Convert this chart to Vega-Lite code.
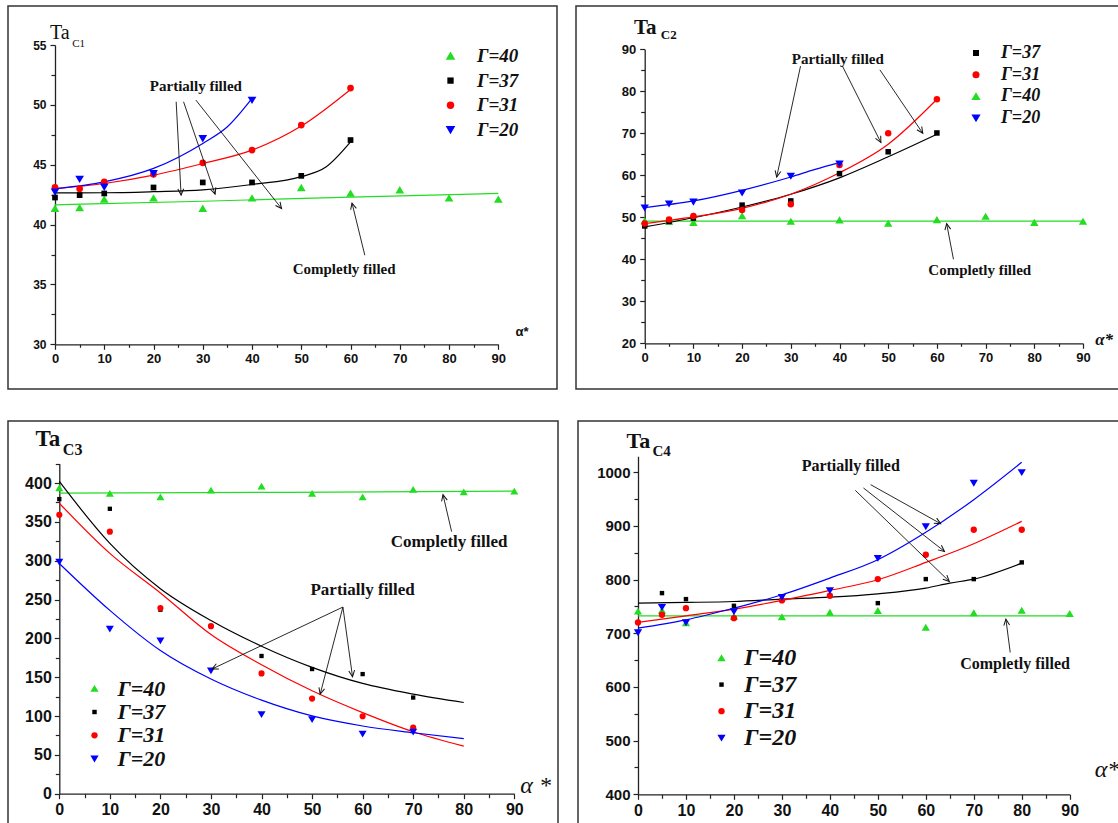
{
"$schema": "https://vega.github.io/schema/vega-lite/v6.json",
"padding": {"left": 7, "top": 5, "right": 0, "bottom": 0},
"background": "white",
"config": {"view": {"stroke": "#333333", "strokeWidth": 1.5}, "axis": {"grid": false}},
"datasets": {
"p1p": [
{"a":0,"v":41.34,"g":"Γ=40"},{"a":5,"v":41.4,"g":"Γ=40"},{"a":10,"v":42.1,"g":"Γ=40"},{"a":20,"v":42.2,"g":"Γ=40"},{"a":30,"v":41.34,"g":"Γ=40"},{"a":40,"v":42.2,"g":"Γ=40"},{"a":50,"v":43.07,"g":"Γ=40"},{"a":60,"v":42.6,"g":"Γ=40"},{"a":70,"v":42.88,"g":"Γ=40"},{"a":80,"v":42.2,"g":"Γ=40"},{"a":90,"v":42.1,"g":"Γ=40"},
{"a":0,"v":42.26,"g":"Γ=37"},{"a":5,"v":42.46,"g":"Γ=37"},{"a":10,"v":42.6,"g":"Γ=37"},{"a":20,"v":43.1,"g":"Γ=37"},{"a":30,"v":43.52,"g":"Γ=37"},{"a":40,"v":43.52,"g":"Γ=37"},{"a":50,"v":44.07,"g":"Γ=37"},{"a":60,"v":47.06,"g":"Γ=37"},
{"a":0,"v":43.1,"g":"Γ=31"},{"a":5,"v":43.0,"g":"Γ=31"},{"a":10,"v":43.57,"g":"Γ=31"},{"a":20,"v":44.2,"g":"Γ=31"},{"a":30,"v":45.16,"g":"Γ=31"},{"a":40,"v":46.22,"g":"Γ=31"},{"a":50,"v":48.31,"g":"Γ=31"},{"a":60,"v":51.4,"g":"Γ=31"},
{"a":0,"v":42.74,"g":"Γ=20"},{"a":5,"v":43.8,"g":"Γ=20"},{"a":10,"v":43.15,"g":"Γ=20"},{"a":20,"v":44.27,"g":"Γ=20"},{"a":30,"v":47.2,"g":"Γ=20"},{"a":40,"v":50.4,"g":"Γ=20"}
],
"p1l": [
{"a":0,"v":41.65,"g":"Γ=40"},{"a":30,"v":41.95,"g":"Γ=40"},{"a":60,"v":42.3,"g":"Γ=40"},{"a":90,"v":42.6,"g":"Γ=40"},
{"a":0,"v":42.65,"g":"Γ=37"},{"a":10,"v":42.66,"g":"Γ=37"},{"a":20,"v":42.75,"g":"Γ=37"},{"a":30,"v":42.9,"g":"Γ=37"},{"a":40,"v":43.35,"g":"Γ=37"},{"a":50,"v":44.0,"g":"Γ=37"},{"a":55,"v":44.8,"g":"Γ=37"},{"a":60,"v":46.9,"g":"Γ=37"},
{"a":0,"v":43.0,"g":"Γ=31"},{"a":10,"v":43.43,"g":"Γ=31"},{"a":20,"v":44.13,"g":"Γ=31"},{"a":30,"v":45.1,"g":"Γ=31"},{"a":40,"v":46.22,"g":"Γ=31"},{"a":50,"v":48.23,"g":"Γ=31"},{"a":60,"v":51.29,"g":"Γ=31"},
{"a":0,"v":43.0,"g":"Γ=20"},{"a":10,"v":43.57,"g":"Γ=20"},{"a":20,"v":44.69,"g":"Γ=20"},{"a":30,"v":46.78,"g":"Γ=20"},{"a":35,"v":48.17,"g":"Γ=20"},{"a":40,"v":50.54,"g":"Γ=20"}
],
"p2p": [
{"a":0,"v":49.13,"g":"Γ=40"},{"a":5,"v":48.97,"g":"Γ=40"},{"a":10,"v":48.7,"g":"Γ=40"},{"a":20,"v":50.3,"g":"Γ=40"},{"a":30,"v":48.97,"g":"Γ=40"},{"a":40,"v":49.3,"g":"Γ=40"},{"a":50,"v":48.5,"g":"Γ=40"},{"a":60,"v":49.37,"g":"Γ=40"},{"a":70,"v":50.16,"g":"Γ=40"},{"a":80,"v":48.7,"g":"Γ=40"},{"a":90,"v":48.97,"g":"Γ=40"},
{"a":0,"v":47.94,"g":"Γ=37"},{"a":5,"v":49.0,"g":"Γ=37"},{"a":10,"v":49.8,"g":"Γ=37"},{"a":20,"v":52.9,"g":"Γ=37"},{"a":30,"v":53.9,"g":"Γ=37"},{"a":40,"v":60.4,"g":"Γ=37"},{"a":50,"v":65.6,"g":"Γ=37"},{"a":60,"v":70.08,"g":"Γ=37"},
{"a":0,"v":48.5,"g":"Γ=31"},{"a":5,"v":49.5,"g":"Γ=31"},{"a":10,"v":50.3,"g":"Γ=31"},{"a":20,"v":51.75,"g":"Γ=31"},{"a":30,"v":53.1,"g":"Γ=31"},{"a":40,"v":62.46,"g":"Γ=31"},{"a":50,"v":70.0,"g":"Γ=31"},{"a":60,"v":78.1,"g":"Γ=31"},
{"a":0,"v":52.3,"g":"Γ=20"},{"a":5,"v":53.25,"g":"Γ=20"},{"a":10,"v":53.7,"g":"Γ=20"},{"a":20,"v":55.87,"g":"Γ=20"},{"a":30,"v":59.84,"g":"Γ=20"},{"a":40,"v":62.78,"g":"Γ=20"}
],
"p2l": [
{"a":0,"v":49.1,"g":"Γ=40"},{"a":90,"v":49.1,"g":"Γ=40"},
{"a":0,"v":47.7,"g":"Γ=37"},{"a":10,"v":49.9,"g":"Γ=37"},{"a":20,"v":52.46,"g":"Γ=37"},{"a":30,"v":55.5,"g":"Γ=37"},{"a":40,"v":59.4,"g":"Γ=37"},{"a":50,"v":64.4,"g":"Γ=37"},{"a":60,"v":69.76,"g":"Γ=37"},
{"a":0,"v":48.5,"g":"Γ=31"},{"a":10,"v":50.08,"g":"Γ=31"},{"a":20,"v":52.14,"g":"Γ=31"},{"a":30,"v":55.5,"g":"Γ=31"},{"a":40,"v":60.6,"g":"Γ=31"},{"a":50,"v":67.4,"g":"Γ=31"},{"a":60,"v":78.1,"g":"Γ=31"},
{"a":0,"v":52.3,"g":"Γ=20"},{"a":10,"v":53.9,"g":"Γ=20"},{"a":20,"v":56.43,"g":"Γ=20"},{"a":30,"v":59.6,"g":"Γ=20"},{"a":35,"v":61.4,"g":"Γ=20"},{"a":40,"v":63.0,"g":"Γ=20"}
],
"p3p": [
{"a":0,"v":393.5,"g":"Γ=40"},{"a":10,"v":386.2,"g":"Γ=40"},{"a":20,"v":381.9,"g":"Γ=40"},{"a":30,"v":390.5,"g":"Γ=40"},{"a":40,"v":395.7,"g":"Γ=40"},{"a":50,"v":386.2,"g":"Γ=40"},{"a":60,"v":381.9,"g":"Γ=40"},{"a":70,"v":391.4,"g":"Γ=40"},{"a":80,"v":388.3,"g":"Γ=40"},{"a":90,"v":389.2,"g":"Γ=40"},
{"a":0,"v":379.3,"g":"Γ=37"},{"a":10,"v":366.8,"g":"Γ=37"},{"a":20,"v":236.9,"g":"Γ=37"},{"a":30,"v":215.7,"g":"Γ=37"},{"a":40,"v":177.3,"g":"Γ=37"},{"a":50,"v":160.5,"g":"Γ=37"},{"a":60,"v":154.0,"g":"Γ=37"},{"a":70,"v":123.8,"g":"Γ=37"},
{"a":0,"v":359,"g":"Γ=31"},{"a":10,"v":337.4,"g":"Γ=31"},{"a":20,"v":239,"g":"Γ=31"},{"a":30,"v":215.7,"g":"Γ=31"},{"a":40,"v":154.9,"g":"Γ=31"},{"a":50,"v":122.5,"g":"Γ=31"},{"a":60,"v":99.7,"g":"Γ=31"},{"a":70,"v":85,"g":"Γ=31"},
{"a":0,"v":298.6,"g":"Γ=20"},{"a":10,"v":212.3,"g":"Γ=20"},{"a":20,"v":197.2,"g":"Γ=20"},{"a":30,"v":158.4,"g":"Γ=20"},{"a":40,"v":102.3,"g":"Γ=20"},{"a":50,"v":95.8,"g":"Γ=20"},{"a":60,"v":77.2,"g":"Γ=20"},{"a":70,"v":79.8,"g":"Γ=20"}
],
"p3l": [
{"a":0,"v":387,"g":"Γ=40"},{"a":45,"v":388,"g":"Γ=40"},{"a":90,"v":389.5,"g":"Γ=40"},
{"a":0,"v":402,"g":"Γ=37"},{"a":10,"v":322.3,"g":"Γ=37"},{"a":20,"v":264,"g":"Γ=37"},{"a":30,"v":223,"g":"Γ=37"},{"a":40,"v":189.9,"g":"Γ=37"},{"a":50,"v":162.7,"g":"Γ=37"},{"a":60,"v":142,"g":"Γ=37"},{"a":70,"v":128.2,"g":"Γ=37"},{"a":80,"v":117.4,"g":"Γ=37"},
{"a":0,"v":374,"g":"Γ=31"},{"a":10,"v":309.4,"g":"Γ=31"},{"a":20,"v":258.5,"g":"Γ=31"},{"a":30,"v":205,"g":"Γ=31"},{"a":40,"v":166.1,"g":"Γ=31"},{"a":50,"v":132.5,"g":"Γ=31"},{"a":60,"v":104.4,"g":"Γ=31"},{"a":70,"v":79.8,"g":"Γ=31"},{"a":80,"v":61.3,"g":"Γ=31"},
{"a":0,"v":296.4,"g":"Γ=20"},{"a":10,"v":236,"g":"Γ=20"},{"a":20,"v":184.3,"g":"Γ=20"},{"a":30,"v":147.6,"g":"Γ=20"},{"a":40,"v":120.4,"g":"Γ=20"},{"a":50,"v":100.1,"g":"Γ=20"},{"a":60,"v":87.2,"g":"Γ=20"},{"a":70,"v":78.5,"g":"Γ=20"},{"a":80,"v":70.8,"g":"Γ=20"}
],
"p4p": [
{"a":0,"v":740.7,"g":"Γ=40"},{"a":5,"v":742.5,"g":"Γ=40"},{"a":10,"v":718.9,"g":"Γ=40"},{"a":20,"v":731.3,"g":"Γ=40"},{"a":30,"v":730.1,"g":"Γ=40"},{"a":40,"v":738.8,"g":"Γ=40"},{"a":50,"v":741.9,"g":"Γ=40"},{"a":60,"v":710.8,"g":"Γ=40"},{"a":70,"v":737.6,"g":"Γ=40"},{"a":80,"v":742.5,"g":"Γ=40"},{"a":90,"v":736.3,"g":"Γ=40"},
{"a":5,"v":774.9,"g":"Γ=37"},{"a":10,"v":763.7,"g":"Γ=37"},{"a":20,"v":751.2,"g":"Γ=37"},{"a":50,"v":756.2,"g":"Γ=37"},{"a":60,"v":801,"g":"Γ=37"},{"a":70,"v":801,"g":"Γ=37"},{"a":80,"v":832.1,"g":"Γ=37"},
{"a":0,"v":720.2,"g":"Γ=31"},{"a":5,"v":734.5,"g":"Γ=31"},{"a":10,"v":746.9,"g":"Γ=31"},{"a":20,"v":728.2,"g":"Γ=31"},{"a":30,"v":761.2,"g":"Γ=31"},{"a":40,"v":769.9,"g":"Γ=31"},{"a":50,"v":801,"g":"Γ=31"},{"a":60,"v":846.4,"g":"Γ=31"},{"a":70,"v":893,"g":"Γ=31"},{"a":80,"v":893,"g":"Γ=31"},
{"a":0,"v":701.5,"g":"Γ=20"},{"a":5,"v":748.8,"g":"Γ=20"},{"a":10,"v":720.2,"g":"Γ=20"},{"a":20,"v":740.7,"g":"Γ=20"},{"a":30,"v":767.4,"g":"Γ=20"},{"a":40,"v":779.9,"g":"Γ=20"},{"a":50,"v":840.2,"g":"Γ=20"},{"a":60,"v":899.3,"g":"Γ=20"},{"a":70,"v":980.1,"g":"Γ=20"},{"a":80,"v":1000,"g":"Γ=20"}
],
"p4l": [
{"a":0,"v":732.6,"g":"Γ=40"},{"a":90,"v":732.6,"g":"Γ=40"},
{"a":0,"v":756.2,"g":"Γ=37"},{"a":10,"v":757.5,"g":"Γ=37"},{"a":20,"v":759.3,"g":"Γ=37"},{"a":30,"v":763.7,"g":"Γ=37"},{"a":40,"v":767.4,"g":"Γ=37"},{"a":50,"v":773.6,"g":"Γ=37"},{"a":60,"v":784.2,"g":"Γ=37"},{"a":65,"v":793.5,"g":"Γ=37"},{"a":70,"v":801,"g":"Γ=37"},{"a":80,"v":830.8,"g":"Γ=37"},
{"a":0,"v":720.2,"g":"Γ=31"},{"a":10,"v":732.6,"g":"Γ=31"},{"a":20,"v":745,"g":"Γ=31"},{"a":30,"v":761.2,"g":"Γ=31"},{"a":40,"v":779.9,"g":"Γ=31"},{"a":50,"v":799.8,"g":"Γ=31"},{"a":60,"v":832.1,"g":"Γ=31"},{"a":70,"v":866.9,"g":"Γ=31"},{"a":80,"v":908.6,"g":"Γ=31"},
{"a":0,"v":709.6,"g":"Γ=20"},{"a":10,"v":725.1,"g":"Γ=20"},{"a":20,"v":746.9,"g":"Γ=20"},{"a":30,"v":771.8,"g":"Γ=20"},{"a":40,"v":802.9,"g":"Γ=20"},{"a":50,"v":837.1,"g":"Γ=20"},{"a":60,"v":888.1,"g":"Γ=20"},{"a":70,"v":949,"g":"Γ=20"},{"a":80,"v":1018.7,"g":"Γ=20"}
],
"arrows": [
{"p":1,"id":1,"a":24.6,"v":50.26,"a2":25.6,"v2":42.46},{"p":1,"id":2,"a":26.1,"v":50.26,"a2":32.5,"v2":42.54},{"p":1,"id":3,"a":28.6,"v":50.4,"a2":46.0,"v2":41.34},{"p":1,"id":4,"a":62.9,"v":37.44,"a2":60.3,"v2":41.8},
{"p":2,"id":1,"a":32.0,"v":86.0,"a2":27.1,"v2":59.6},{"p":2,"id":2,"a":40.6,"v":86.0,"a2":48.5,"v2":67.8},{"p":2,"id":3,"a":48.3,"v":85.1,"a2":57.1,"v2":70.0},{"p":2,"id":4,"a":63.4,"v":40.0,"a2":62.0,"v2":48.5},
{"p":3,"id":1,"a":77.6,"v":337.4,"a2":75.9,"v2":384.9},{"p":3,"id":2,"a":56.1,"v":240.3,"a2":30.2,"v2":160.5},{"p":3,"id":3,"a":56.1,"v":240.3,"a2":51.6,"v2":128.2},{"p":3,"id":4,"a":56.1,"v":240.3,"a2":58.0,"v2":150.6},
{"p":4,"id":1,"a":48.5,"v":977,"a2":63.1,"v2":904.2},{"p":4,"id":2,"a":47.0,"v":970.8,"a2":63.9,"v2":852.6},{"p":4,"id":3,"a":45.3,"v":966.4,"a2":64.9,"v2":796.6},{"p":4,"id":4,"a":77.6,"v":664.2,"a2":76.7,"v2":726.4}
],
"heads": [
{"p":1,"id":1,"a":25.6,"v":42.46},{"p":1,"id":2,"a":32.5,"v":42.54},{"p":1,"id":3,"a":46.0,"v":41.34},{"p":1,"id":4,"a":60.3,"v":41.8},
{"p":2,"id":1,"a":27.1,"v":59.6},{"p":2,"id":2,"a":48.5,"v":67.8},{"p":2,"id":3,"a":57.1,"v":70.0},{"p":2,"id":4,"a":62.0,"v":48.5},
{"p":3,"id":1,"a":75.9,"v":384.9},{"p":3,"id":2,"a":30.2,"v":160.5},{"p":3,"id":3,"a":51.6,"v":128.2},{"p":3,"id":4,"a":58.0,"v":150.6},
{"p":4,"id":1,"a":63.1,"v":904.2},{"p":4,"id":2,"a":63.9,"v":852.6},{"p":4,"id":3,"a":64.9,"v":796.6},{"p":4,"id":4,"a":76.7,"v":726.4}
],
"notes": [
{"p":1,"k":"ann","a":28.6,"v":51.57,"t":"Partially filled"},{"p":1,"k":"ann","a":58.7,"v":36.33,"t":"Completly filled"},{"p":1,"k":"ta","a":-1.02,"v":55.5,"t":"Ta"},{"p":1,"k":"sub","a":3.5,"v":54.84,"t":"C1"},{"p":1,"k":"al","a":93.5,"v":31.03,"t":"α*"},
{"p":2,"k":"ann","a":39.65,"v":87.8,"t":"Partially filled"},{"p":2,"k":"ann","a":68.8,"v":37.4,"t":"Completly filled"},{"p":2,"k":"ta","a":-2.19,"v":93.57,"t":"Ta"},{"p":2,"k":"sub","a":3.3,"v":92.38,"t":"C2"},{"p":2,"k":"al","a":92.5,"v":20.7,"t":"α*"},
{"p":3,"k":"ann","a":60.0,"v":262.8,"t":"Partially filled"},{"p":3,"k":"ann","a":77.1,"v":323.6,"t":"Completly filled"},{"p":3,"k":"ta","a":-4.72,"v":447.5,"t":"Ta"},{"p":3,"k":"sub","a":0.7,"v":436.7,"t":"C3"},{"p":3,"k":"al","a":91.2,"v":9.5,"t":"α *"},
{"p":4,"k":"ann","a":44.35,"v":1012.4,"t":"Partially filled"},{"p":4,"k":"ann","a":78.6,"v":643,"t":"Completly filled"},{"p":4,"k":"ta","a":-2.4,"v":1045.4,"t":"Ta"},{"p":4,"k":"sub","a":3.0,"v":1029.9,"t":"C4"},{"p":4,"k":"al","a":95.2,"v":445.3,"t":"α*"}
]
},
"spacing": 30,
"resolve": {"scale": {"color": "independent", "shape": "independent"}, "legend": {"color": "independent", "shape": "independent"}},
"vconcat": [
{"spacing": 17,
 "resolve": {"scale": {"color": "independent", "shape": "independent"}, "legend": {"color": "independent", "shape": "independent"}},
 "hconcat": [
 {"width": 549, "height": 383,
  "encoding": {
   "x": {"field": "a", "type": "quantitative", "scale": {"domain": [0, 90], "range": [47, 490.3], "nice": false, "zero": false},
    "axis": {"title": null, "values": [0,5,10,15,20,25,30,35,40,45,50,55,60,65,70,75,80,85,90], "format": "d", "labelExpr": "datum.value % 10 === 0 ? datum.label : ''", "offset": -44.7, "grid": false, "domainColor": "#222", "domainWidth": 1.3, "tickColor": "#222", "tickWidth": 1.2, "tickSize": {"condition": {"test": "datum.value % 10 === 0", "value": 5}, "value": 3}, "labelFont": "Liberation Sans", "labelFontWeight": "bold", "labelFontSize": 13, "labelColor": "#111", "labelPadding": 3, "labelFlush": false, "labelOverlap": false}},
   "y": {"field": "v", "type": "quantitative", "scale": {"domain": [30, 55], "range": [338.3, 39], "nice": false, "zero": false},
    "axis": {"title": null, "values": [30,32.5,35,37.5,40,42.5,45,47.5,50,52.5,55], "labelExpr": "datum.value % 5 === 0 ? datum.label : ''", "offset": -47, "grid": false, "domainColor": "#222", "domainWidth": 1.3, "tickColor": "#222", "tickWidth": 1.2, "tickSize": {"condition": {"test": "datum.value % 5 === 0", "value": 5}, "value": 4}, "labelFont": "Liberation Sans", "labelFontWeight": "bold", "labelFontSize": 12, "labelColor": "#111", "labelPadding": 4, "labelFlush": false, "labelOverlap": false}}
  },
  "layer": [
   {"data": {"name": "p1l"}, "mark": {"type": "line", "interpolate": "monotone", "strokeWidth": 1.2},
    "encoding": {"detail": {"field": "g"}, "color": {"condition": [{"test": "datum.g === 'Γ=40'", "value": "#22dd22"}, {"test": "datum.g === 'Γ=31'", "value": "#ff0000"}, {"test": "datum.g === 'Γ=20'", "value": "#0000ff"}], "value": "#000000"}}},
   {"data": {"name": "p1p"}, "mark": {"type": "point", "filled": true, "size": 45, "opacity": 1},
    "encoding": {
     "color": {"field": "g", "type": "nominal", "scale": {"domain": ["Γ=40","Γ=37","Γ=31","Γ=20"], "range": ["#22dd22","#000000","#ff0000","#0000ff"]}, "legend": {"title": null, "orient": "none", "legendX": 433, "legendY": 40.5, "symbolSize": 55, "labelFont": "Liberation Serif", "labelFontStyle": "italic", "labelFontWeight": "bold", "labelFontSize": 19, "labelColor": "#111", "rowPadding": 4.6, "labelOffset": 17, "padding": 0, "symbolStrokeWidth": 0}},
     "shape": {"field": "g", "type": "nominal", "scale": {"domain": ["Γ=40","Γ=37","Γ=31","Γ=20"], "range": ["M0,-1.2L1.3,1L-1.3,1Z","M-0.85,-0.85L0.85,-0.85L0.85,0.85L-0.85,0.85Z","circle","M0,1.2L1.3,-1L-1.3,-1Z"]}, "legend": {"title": null, "orient": "none", "legendX": 433, "legendY": 40.5, "symbolSize": 55, "labelFont": "Liberation Serif", "labelFontStyle": "italic", "labelFontWeight": "bold", "labelFontSize": 19, "labelColor": "#111", "rowPadding": 4.6, "labelOffset": 17, "padding": 0, "symbolStrokeWidth": 0}}}},
   {"data": {"name": "arrows"}, "transform": [{"filter": "datum.p === 1"}], "mark": {"type": "rule", "color": "#111", "strokeWidth": 0.9},
    "encoding": {"x2": {"field": "a2"}, "y2": {"field": "v2"}}},
   {"data": {"name": "heads"}, "transform": [{"filter": "datum.p === 1 && datum.id === 1"}], "mark": {"type": "point", "shape": "M-1.6,-0.75L0,0L-1.6,0.75", "filled": false, "color": "#111", "strokeWidth": 1, "size": 60, "opacity": 1, "angle": 87}},
   {"data": {"name": "heads"}, "transform": [{"filter": "datum.p === 1 && datum.id === 2"}], "mark": {"type": "point", "shape": "M-1.6,-0.75L0,0L-1.6,0.75", "filled": false, "color": "#111", "strokeWidth": 1, "size": 60, "opacity": 1, "angle": 71.2}},
   {"data": {"name": "heads"}, "transform": [{"filter": "datum.p === 1 && datum.id === 3"}], "mark": {"type": "point", "shape": "M-1.6,-0.75L0,0L-1.6,0.75", "filled": false, "color": "#111", "strokeWidth": 1, "size": 60, "opacity": 1, "angle": 51.7}},
   {"data": {"name": "heads"}, "transform": [{"filter": "datum.p === 1 && datum.id === 4"}], "mark": {"type": "point", "shape": "M-1.6,-0.75L0,0L-1.6,0.75", "filled": false, "color": "#111", "strokeWidth": 1, "size": 60, "opacity": 1, "angle": 256.2}},
   {"data": {"name": "notes"}, "transform": [{"filter": "datum.p === 1 && datum.k === 'ann'"}], "mark": {"type": "text", "font": "Liberation Serif", "fontWeight": "bold", "fontSize": 15, "align": "center", "baseline": "middle", "color": "#111"}, "encoding": {"text": {"field": "t"}}},
   {"data": {"name": "notes"}, "transform": [{"filter": "datum.p === 1 && datum.k === 'ta'"}], "mark": {"type": "text", "font": "Liberation Serif", "fontSize": 20, "align": "left", "baseline": "alphabetic", "color": "#111"}, "encoding": {"text": {"field": "t"}}},
   {"data": {"name": "notes"}, "transform": [{"filter": "datum.p === 1 && datum.k === 'sub'"}], "mark": {"type": "text", "font": "Liberation Serif", "fontSize": 11, "align": "left", "baseline": "alphabetic", "color": "#111"}, "encoding": {"text": {"field": "t"}}},
   {"data": {"name": "notes"}, "transform": [{"filter": "datum.p === 1 && datum.k === 'al'"}], "mark": {"type": "text", "font": "Liberation Sans", "fontWeight": "bold", "fontSize": 13, "align": "left", "baseline": "middle", "color": "#111"}, "encoding": {"text": {"field": "t"}}}
  ]
 },
 {"width": 543, "height": 383,
  "encoding": {
   "x": {"field": "a", "type": "quantitative", "scale": {"domain": [0, 90], "range": [68.7, 507], "nice": false, "zero": false},
    "axis": {"title": null, "values": [0,5,10,15,20,25,30,35,40,45,50,55,60,65,70,75,80,85,90], "format": "d", "labelExpr": "datum.value % 10 === 0 ? datum.label : ''", "offset": -45.7, "grid": false, "domainColor": "#222", "domainWidth": 1.3, "tickColor": "#222", "tickWidth": 1.2, "tickSize": {"condition": {"test": "datum.value % 10 === 0", "value": 5}, "value": 3}, "labelFont": "Liberation Sans", "labelFontWeight": "bold", "labelFontSize": 13, "labelColor": "#111", "labelPadding": 3, "labelFlush": false, "labelOverlap": false}},
   "y": {"field": "v", "type": "quantitative", "scale": {"domain": [20, 90], "range": [337.3, 43.3], "nice": false, "zero": false},
    "axis": {"title": null, "values": [20,25,30,35,40,45,50,55,60,65,70,75,80,85,90], "format": "d", "labelExpr": "datum.value % 10 === 0 ? datum.label : ''", "offset": -68.7, "grid": false, "domainColor": "#222", "domainWidth": 1.3, "tickColor": "#222", "tickWidth": 1.2, "tickSize": {"condition": {"test": "datum.value % 10 === 0", "value": 5}, "value": 4}, "labelFont": "Liberation Sans", "labelFontWeight": "bold", "labelFontSize": 13, "labelColor": "#111", "labelPadding": 4, "labelFlush": false, "labelOverlap": false}}
  },
  "layer": [
   {"data": {"name": "p2l"}, "mark": {"type": "line", "interpolate": "monotone", "strokeWidth": 1.2},
    "encoding": {"detail": {"field": "g"}, "color": {"condition": [{"test": "datum.g === 'Γ=40'", "value": "#22dd22"}, {"test": "datum.g === 'Γ=31'", "value": "#ff0000"}, {"test": "datum.g === 'Γ=20'", "value": "#0000ff"}], "value": "#000000"}}},
   {"data": {"name": "p2p"}, "mark": {"type": "point", "filled": true, "size": 42, "opacity": 1},
    "encoding": {
     "color": {"field": "g", "type": "nominal", "scale": {"domain": ["Γ=37","Γ=31","Γ=40","Γ=20"], "range": ["#000000","#ff0000","#22dd22","#0000ff"]}, "legend": {"title": null, "orient": "none", "legendX": 391, "legendY": 38, "symbolSize": 50, "labelFont": "Liberation Serif", "labelFontStyle": "italic", "labelFontWeight": "bold", "labelFontSize": 18, "labelColor": "#111", "rowPadding": 3.7, "labelOffset": 16, "padding": 0, "symbolStrokeWidth": 0}},
     "shape": {"field": "g", "type": "nominal", "scale": {"domain": ["Γ=37","Γ=31","Γ=40","Γ=20"], "range": ["M-0.85,-0.85L0.85,-0.85L0.85,0.85L-0.85,0.85Z","circle","M0,-1.2L1.3,1L-1.3,1Z","M0,1.2L1.3,-1L-1.3,-1Z"]}, "legend": {"title": null, "orient": "none", "legendX": 391, "legendY": 38, "symbolSize": 50, "labelFont": "Liberation Serif", "labelFontStyle": "italic", "labelFontWeight": "bold", "labelFontSize": 18, "labelColor": "#111", "rowPadding": 3.7, "labelOffset": 16, "padding": 0, "symbolStrokeWidth": 0}}}},
   {"data": {"name": "arrows"}, "transform": [{"filter": "datum.p === 2"}], "mark": {"type": "rule", "color": "#111", "strokeWidth": 0.9},
    "encoding": {"x2": {"field": "a2"}, "y2": {"field": "v2"}}},
   {"data": {"name": "heads"}, "transform": [{"filter": "datum.p === 2 && datum.id === 1"}], "mark": {"type": "point", "shape": "M-1.6,-0.75L0,0L-1.6,0.75", "filled": false, "color": "#111", "strokeWidth": 1, "size": 60, "opacity": 1, "angle": 102.2}},
   {"data": {"name": "heads"}, "transform": [{"filter": "datum.p === 2 && datum.id === 2"}], "mark": {"type": "point", "shape": "M-1.6,-0.75L0,0L-1.6,0.75", "filled": false, "color": "#111", "strokeWidth": 1, "size": 60, "opacity": 1, "angle": 63.3}},
   {"data": {"name": "heads"}, "transform": [{"filter": "datum.p === 2 && datum.id === 3"}], "mark": {"type": "point", "shape": "M-1.6,-0.75L0,0L-1.6,0.75", "filled": false, "color": "#111", "strokeWidth": 1, "size": 60, "opacity": 1, "angle": 55.9}},
   {"data": {"name": "heads"}, "transform": [{"filter": "datum.p === 2 && datum.id === 4"}], "mark": {"type": "point", "shape": "M-1.6,-0.75L0,0L-1.6,0.75", "filled": false, "color": "#111", "strokeWidth": 1, "size": 60, "opacity": 1, "angle": 259.2}},
   {"data": {"name": "notes"}, "transform": [{"filter": "datum.p === 2 && datum.k === 'ann'"}], "mark": {"type": "text", "font": "Liberation Serif", "fontWeight": "bold", "fontSize": 15, "align": "center", "baseline": "middle", "color": "#111"}, "encoding": {"text": {"field": "t"}}},
   {"data": {"name": "notes"}, "transform": [{"filter": "datum.p === 2 && datum.k === 'ta'"}], "mark": {"type": "text", "font": "Liberation Serif", "fontWeight": "bold", "fontSize": 21, "align": "left", "baseline": "alphabetic", "color": "#111"}, "encoding": {"text": {"field": "t"}}},
   {"data": {"name": "notes"}, "transform": [{"filter": "datum.p === 2 && datum.k === 'sub'"}], "mark": {"type": "text", "font": "Liberation Serif", "fontWeight": "bold", "fontSize": 13, "align": "left", "baseline": "alphabetic", "color": "#111"}, "encoding": {"text": {"field": "t"}}},
   {"data": {"name": "notes"}, "transform": [{"filter": "datum.p === 2 && datum.k === 'al'"}], "mark": {"type": "text", "font": "Liberation Serif", "fontStyle": "italic", "fontWeight": "bold", "fontSize": 17, "align": "left", "baseline": "middle", "color": "#111"}, "encoding": {"text": {"field": "t"}}}
  ]
 }
 ]
},
{"spacing": 18,
 "resolve": {"scale": {"color": "independent", "shape": "independent"}, "legend": {"color": "independent", "shape": "independent"}},
 "hconcat": [
 {"width": 550, "height": 404,
  "encoding": {
   "x": {"field": "a", "type": "quantitative", "scale": {"domain": [0, 90], "range": [51.3, 506.3], "nice": false, "zero": false},
    "axis": {"title": null, "values": [0,5,10,15,20,25,30,35,40,45,50,55,60,65,70,75,80,85,90], "format": "d", "labelExpr": "datum.value % 10 === 0 ? datum.label : ''", "offset": -31.3, "grid": false, "domainColor": "#222", "domainWidth": 1.3, "tickColor": "#222", "tickWidth": 1.2, "tickSize": {"condition": {"test": "datum.value % 10 === 0", "value": 5}, "value": 4}, "labelFont": "Liberation Sans", "labelFontWeight": "bold", "labelFontSize": 16, "labelColor": "#111", "labelPadding": 3, "labelFlush": false, "labelOverlap": false}},
   "y": {"field": "v", "type": "quantitative", "scale": {"domain": [0, 425], "range": [372.7, 42.6], "nice": false, "zero": false},
    "axis": {"title": null, "values": [0,25,50,75,100,125,150,175,200,225,250,275,300,325,350,375,400,425], "format": "d", "labelExpr": "datum.value % 50 === 0 ? datum.label : ''", "offset": -51.3, "grid": false, "domainColor": "#222", "domainWidth": 1.3, "tickColor": "#222", "tickWidth": 1.2, "tickSize": {"condition": {"test": "datum.value % 50 === 0", "value": 5}, "value": 4}, "labelFont": "Liberation Sans", "labelFontWeight": "bold", "labelFontSize": 16, "labelColor": "#111", "labelPadding": 3, "labelFlush": false, "labelOverlap": false}}
  },
  "layer": [
   {"data": {"name": "p3l"}, "mark": {"type": "line", "interpolate": "monotone", "strokeWidth": 1.2},
    "encoding": {"detail": {"field": "g"}, "color": {"condition": [{"test": "datum.g === 'Γ=40'", "value": "#22dd22"}, {"test": "datum.g === 'Γ=31'", "value": "#ff0000"}, {"test": "datum.g === 'Γ=20'", "value": "#0000ff"}], "value": "#000000"}}},
   {"data": {"name": "p3p"}, "mark": {"type": "point", "filled": true, "size": 38, "opacity": 1},
    "encoding": {
     "color": {"field": "g", "type": "nominal", "scale": {"domain": ["Γ=40","Γ=37","Γ=31","Γ=20"], "range": ["#22dd22","#000000","#ff0000","#0000ff"]}, "legend": {"title": null, "orient": "none", "legendX": 75.5, "legendY": 256.7, "symbolSize": 40, "labelFont": "Liberation Serif", "labelFontStyle": "italic", "labelFontWeight": "bold", "labelFontSize": 22, "labelColor": "#111", "rowPadding": 1.3, "labelOffset": 12, "padding": 0, "symbolStrokeWidth": 0}},
     "shape": {"field": "g", "type": "nominal", "scale": {"domain": ["Γ=40","Γ=37","Γ=31","Γ=20"], "range": ["M0,-1.2L1.3,1L-1.3,1Z","M-0.7,-0.7L0.7,-0.7L0.7,0.7L-0.7,0.7Z","circle","M0,1.2L1.3,-1L-1.3,-1Z"]}, "legend": {"title": null, "orient": "none", "legendX": 75.5, "legendY": 256.7, "symbolSize": 40, "labelFont": "Liberation Serif", "labelFontStyle": "italic", "labelFontWeight": "bold", "labelFontSize": 22, "labelColor": "#111", "rowPadding": 1.3, "labelOffset": 12, "padding": 0, "symbolStrokeWidth": 0}}}},
   {"data": {"name": "arrows"}, "transform": [{"filter": "datum.p === 3"}], "mark": {"type": "rule", "color": "#111", "strokeWidth": 0.9},
    "encoding": {"x2": {"field": "a2"}, "y2": {"field": "v2"}}},
   {"data": {"name": "heads"}, "transform": [{"filter": "datum.p === 3 && datum.id === 1"}], "mark": {"type": "point", "shape": "M-1.6,-0.75L0,0L-1.6,0.75", "filled": false, "color": "#111", "strokeWidth": 1, "size": 60, "opacity": 1, "angle": 256.9}},
   {"data": {"name": "heads"}, "transform": [{"filter": "datum.p === 3 && datum.id === 2"}], "mark": {"type": "point", "shape": "M-1.6,-0.75L0,0L-1.6,0.75", "filled": false, "color": "#111", "strokeWidth": 1, "size": 60, "opacity": 1, "angle": 154.7}},
   {"data": {"name": "heads"}, "transform": [{"filter": "datum.p === 3 && datum.id === 3"}], "mark": {"type": "point", "shape": "M-1.6,-0.75L0,0L-1.6,0.75", "filled": false, "color": "#111", "strokeWidth": 1, "size": 60, "opacity": 1, "angle": 104.7}},
   {"data": {"name": "heads"}, "transform": [{"filter": "datum.p === 3 && datum.id === 4"}], "mark": {"type": "point", "shape": "M-1.6,-0.75L0,0L-1.6,0.75", "filled": false, "color": "#111", "strokeWidth": 1, "size": 60, "opacity": 1, "angle": 82.2}},
   {"data": {"name": "notes"}, "transform": [{"filter": "datum.p === 3 && datum.k === 'ann'"}], "mark": {"type": "text", "font": "Liberation Serif", "fontWeight": "bold", "fontSize": 17, "align": "center", "baseline": "middle", "color": "#111"}, "encoding": {"text": {"field": "t"}}},
   {"data": {"name": "notes"}, "transform": [{"filter": "datum.p === 3 && datum.k === 'ta'"}], "mark": {"type": "text", "font": "Liberation Serif", "fontWeight": "bold", "fontSize": 23, "align": "left", "baseline": "alphabetic", "color": "#111"}, "encoding": {"text": {"field": "t"}}},
   {"data": {"name": "notes"}, "transform": [{"filter": "datum.p === 3 && datum.k === 'sub'"}], "mark": {"type": "text", "font": "Liberation Serif", "fontWeight": "bold", "fontSize": 16, "align": "left", "baseline": "alphabetic", "color": "#111"}, "encoding": {"text": {"field": "t"}}},
   {"data": {"name": "notes"}, "transform": [{"filter": "datum.p === 3 && datum.k === 'al'"}], "mark": {"type": "text", "font": "Liberation Serif", "fontStyle": "italic", "fontSize": 24, "align": "left", "baseline": "middle", "color": "#111"}, "encoding": {"text": {"field": "t"}}}
  ]
 },
 {"width": 541, "height": 404,
  "encoding": {
   "x": {"field": "a", "type": "quantitative", "scale": {"domain": [0, 90], "range": [60, 491.7], "nice": false, "zero": false},
    "axis": {"title": null, "values": [0,5,10,15,20,25,30,35,40,45,50,55,60,65,70,75,80,85,90], "format": "d", "labelExpr": "datum.value % 10 === 0 ? datum.label : ''", "offset": -30.7, "grid": false, "domainColor": "#222", "domainWidth": 1.3, "tickColor": "#222", "tickWidth": 1.2, "tickSize": {"condition": {"test": "datum.value % 10 === 0", "value": 5}, "value": 4}, "labelFont": "Liberation Sans", "labelFontWeight": "bold", "labelFontSize": 16, "labelColor": "#111", "labelPadding": 3, "labelFlush": false, "labelOverlap": false}},
   "y": {"field": "v", "type": "quantitative", "scale": {"domain": [400, 1030], "range": [373.3, 35.2], "nice": false, "zero": false},
    "axis": {"title": null, "values": [400,450,500,550,600,650,700,750,800,850,900,950,1000], "format": "d", "labelExpr": "datum.value % 100 === 0 ? datum.label : ''", "offset": -60, "grid": false, "domainColor": "#222", "domainWidth": 1.3, "tickColor": "#222", "tickWidth": 1.2, "tickSize": {"condition": {"test": "datum.value % 100 === 0", "value": 5}, "value": 4}, "labelFont": "Liberation Sans", "labelFontWeight": "bold", "labelFontSize": 15, "labelColor": "#111", "labelPadding": 3, "labelFlush": false, "labelOverlap": false}}
  },
  "layer": [
   {"data": {"name": "p4l"}, "mark": {"type": "line", "interpolate": "monotone", "strokeWidth": 1.2},
    "encoding": {"detail": {"field": "g"}, "color": {"condition": [{"test": "datum.g === 'Γ=40'", "value": "#22dd22"}, {"test": "datum.g === 'Γ=31'", "value": "#ff0000"}, {"test": "datum.g === 'Γ=20'", "value": "#0000ff"}], "value": "#000000"}}},
   {"data": {"name": "p4p"}, "mark": {"type": "point", "filled": true, "size": 40, "opacity": 1},
    "encoding": {
     "color": {"field": "g", "type": "nominal", "scale": {"domain": ["Γ=40","Γ=37","Γ=31","Γ=20"], "range": ["#22dd22","#000000","#ff0000","#0000ff"]}, "legend": {"title": null, "orient": "none", "legendX": 131.5, "legendY": 225, "symbolSize": 40, "labelFont": "Liberation Serif", "labelFontStyle": "italic", "labelFontWeight": "bold", "labelFontSize": 24, "labelColor": "#111", "rowPadding": 2.6, "labelOffset": 10.5, "padding": 0, "symbolStrokeWidth": 0}},
     "shape": {"field": "g", "type": "nominal", "scale": {"domain": ["Γ=40","Γ=37","Γ=31","Γ=20"], "range": ["M0,-1.2L1.3,1L-1.3,1Z","M-0.7,-0.7L0.7,-0.7L0.7,0.7L-0.7,0.7Z","circle","M0,1.2L1.3,-1L-1.3,-1Z"]}, "legend": {"title": null, "orient": "none", "legendX": 131.5, "legendY": 225, "symbolSize": 40, "labelFont": "Liberation Serif", "labelFontStyle": "italic", "labelFontWeight": "bold", "labelFontSize": 24, "labelColor": "#111", "rowPadding": 2.6, "labelOffset": 10.5, "padding": 0, "symbolStrokeWidth": 0}}}},
   {"data": {"name": "arrows"}, "transform": [{"filter": "datum.p === 4"}], "mark": {"type": "rule", "color": "#111", "strokeWidth": 0.9},
    "encoding": {"x2": {"field": "a2"}, "y2": {"field": "v2"}}},
   {"data": {"name": "heads"}, "transform": [{"filter": "datum.p === 4 && datum.id === 1"}], "mark": {"type": "point", "shape": "M-1.6,-0.75L0,0L-1.6,0.75", "filled": false, "color": "#111", "strokeWidth": 1, "size": 60, "opacity": 1, "angle": 29.1}},
   {"data": {"name": "heads"}, "transform": [{"filter": "datum.p === 4 && datum.id === 2"}], "mark": {"type": "point", "shape": "M-1.6,-0.75L0,0L-1.6,0.75", "filled": false, "color": "#111", "strokeWidth": 1, "size": 60, "opacity": 1, "angle": 38.0}},
   {"data": {"name": "heads"}, "transform": [{"filter": "datum.p === 4 && datum.id === 3"}], "mark": {"type": "point", "shape": "M-1.6,-0.75L0,0L-1.6,0.75", "filled": false, "color": "#111", "strokeWidth": 1, "size": 60, "opacity": 1, "angle": 44.0}},
   {"data": {"name": "heads"}, "transform": [{"filter": "datum.p === 4 && datum.id === 4"}], "mark": {"type": "point", "shape": "M-1.6,-0.75L0,0L-1.6,0.75", "filled": false, "color": "#111", "strokeWidth": 1, "size": 60, "opacity": 1, "angle": 262.6}},
   {"data": {"name": "notes"}, "transform": [{"filter": "datum.p === 4 && datum.k === 'ann'"}], "mark": {"type": "text", "font": "Liberation Serif", "fontWeight": "bold", "fontSize": 16, "align": "center", "baseline": "middle", "color": "#111"}, "encoding": {"text": {"field": "t"}}},
   {"data": {"name": "notes"}, "transform": [{"filter": "datum.p === 4 && datum.k === 'ta'"}], "mark": {"type": "text", "font": "Liberation Serif", "fontWeight": "bold", "fontSize": 22, "align": "left", "baseline": "alphabetic", "color": "#111"}, "encoding": {"text": {"field": "t"}}},
   {"data": {"name": "notes"}, "transform": [{"filter": "datum.p === 4 && datum.k === 'sub'"}], "mark": {"type": "text", "font": "Liberation Serif", "fontWeight": "bold", "fontSize": 15, "align": "left", "baseline": "alphabetic", "color": "#111"}, "encoding": {"text": {"field": "t"}}},
   {"data": {"name": "notes"}, "transform": [{"filter": "datum.p === 4 && datum.k === 'al'"}], "mark": {"type": "text", "font": "Liberation Serif", "fontStyle": "italic", "fontSize": 24, "align": "left", "baseline": "middle", "color": "#111"}, "encoding": {"text": {"field": "t"}}}
  ]
 }
 ]
}
]
}
